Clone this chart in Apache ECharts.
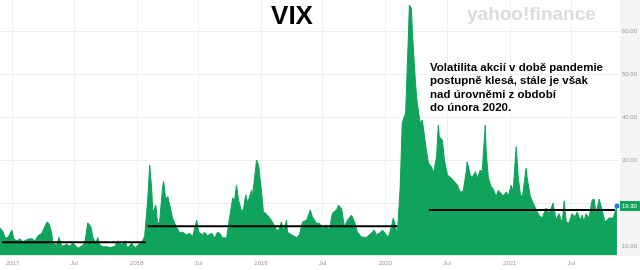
<!DOCTYPE html>
<html>
<head>
<meta charset="utf-8">
<script src="https://cdn.jsdelivr.net/npm/echarts/dist/echarts.min.js"></script>
<style>
  html, body { margin: 0; padding: 0; background: #fff; }
  #chart { width: 640px; height: 270px; }
</style>
</head>
<body>
<div id="chart"></div>
<script>
// VIX weekly closes
const vixDates = [
  "2016-11-25","2016-12-04","2016-12-10","2016-12-18","2016-12-30",
  "2017-01-05","2017-01-14","2017-01-23","2017-01-31","2017-02-15","2017-02-27","2017-03-08","2017-03-16","2017-03-28",
  "2017-04-12","2017-04-18","2017-04-26","2017-04-29","2017-05-11","2017-05-17","2017-05-26","2017-06-09","2017-06-18",
  "2017-06-27","2017-07-12","2017-07-23","2017-08-01","2017-08-10","2017-08-19","2017-08-25","2017-09-03","2017-09-08",
  "2017-09-14","2017-09-23","2017-10-08","2017-10-14","2017-10-28","2017-11-06","2017-11-18","2017-11-27","2017-12-05",
  "2017-12-17","2017-12-26",
  "2018-01-04","2018-01-16","2018-01-24","2018-02-02","2018-02-08","2018-02-14","2018-02-17","2018-02-26","2018-03-03",
  "2018-03-09","2018-03-18","2018-03-21","2018-03-27","2018-04-02","2018-04-11","2018-04-16","2018-04-25","2018-05-07",
  "2018-05-16","2018-05-28","2018-06-05","2018-06-14","2018-06-26","2018-07-02","2018-07-14","2018-07-19","2018-07-28",
  "2018-08-09","2018-08-18","2018-08-26","2018-09-01","2018-09-10","2018-09-22","2018-10-01","2018-10-10","2018-10-15",
  "2018-10-21","2018-10-27","2018-11-05","2018-11-11","2018-11-17","2018-11-23","2018-12-04","2018-12-07","2018-12-19",
  "2018-12-25",
  "2019-01-03","2019-01-08","2019-01-20","2019-02-04","2019-02-16","2019-02-22","2019-03-02","2019-03-08","2019-03-17",
  "2019-03-20","2019-04-01","2019-04-15","2019-04-24","2019-05-03","2019-05-15","2019-05-26","2019-06-01","2019-06-13",
  "2019-06-22","2019-07-01","2019-07-12","2019-07-21","2019-07-30","2019-08-11","2019-08-17","2019-08-26","2019-09-03",
  "2019-09-12","2019-09-24","2019-10-03","2019-10-11","2019-10-23","2019-11-07","2019-11-21","2019-11-30","2019-12-06",
  "2019-12-15","2019-12-24",
  "2020-01-04","2020-01-10","2020-01-19","2020-01-25","2020-02-03","2020-02-06","2020-02-14","2020-02-20","2020-03-01",
  "2020-03-09","2020-03-12","2020-03-18","2020-03-21","2020-03-30","2020-04-04","2020-04-13","2020-04-19","2020-05-01",
  "2020-05-07","2020-05-16","2020-05-22","2020-05-31","2020-06-05","2020-06-08","2020-06-17","2020-06-23","2020-07-02",
  "2020-07-13","2020-07-22","2020-07-31","2020-08-08","2020-08-17","2020-08-26","2020-08-29","2020-09-07","2020-09-13",
  "2020-09-22","2020-09-28","2020-10-06","2020-10-12","2020-10-21","2020-10-24","2020-10-30","2020-11-07","2020-11-13",
  "2020-11-22","2020-11-28","2020-12-07","2020-12-13","2020-12-22","2020-12-28",
  "2021-01-05","2021-01-11","2021-01-20","2021-01-26","2021-02-01","2021-02-07","2021-02-12","2021-02-18","2021-02-21",
  "2021-03-02","2021-03-08","2021-03-20","2021-03-28","2021-04-06","2021-04-18","2021-04-27","2021-05-08","2021-05-17",
  "2021-05-26","2021-06-04","2021-06-10","2021-06-16","2021-06-24","2021-07-03","2021-07-12","2021-07-18","2021-07-27",
  "2021-08-02","2021-08-07","2021-08-13","2021-08-22","2021-08-31","2021-09-06","2021-09-12","2021-09-21","2021-09-29",
  "2021-10-08","2021-10-20","2021-11-01","2021-11-12"
];
const vixValues = [
  14.2,13.3,11.9,11.9,13.7,
  11.6,11.2,11.7,11.0,11.6,11.7,11.2,12.3,13.0,
  15.6,15.2,13.0,10.7,10.2,12.0,9.9,10.4,10.0,
  10.7,9.5,10.0,10.7,15.4,14.5,12.0,10.7,12.0,
  10.3,9.8,9.8,9.6,9.9,11.2,10.3,11.2,9.6,
  10.7,9.6,
  10.2,11.0,12.2,20.7,28.8,23.0,17.7,19.5,15.3,
  15.6,23.8,25.0,20.7,21.5,18.4,16.5,14.9,13.0,
  13.2,12.6,13.0,12.2,16.0,13.2,12.6,13.2,12.4,
  13.0,11.9,13.2,13.0,11.9,11.9,16.8,21.2,20.4,
  24.2,20.7,18.0,18.7,21.9,20.0,23.0,21.5,30.0,
  28.8,
  22.3,18.0,17.2,15.6,13.7,13.7,15.6,13.7,16.0,
  13.2,12.6,12.0,12.6,15.6,16.0,18.4,16.8,15.3,
  15.3,14.0,14.9,13.7,17.7,18.4,19.5,18.7,14.4,
  16.0,17.2,15.6,13.3,12.1,12.0,13.0,13.7,12.6,
  13.0,13.7,
  12.6,12.0,14.4,16.5,13.7,13.0,23.7,38.6,40.9,
  58.6,66.0,65.3,59.5,47.9,43.3,38.6,39.3,32.3,
  29.3,28.4,27.0,30.7,38.1,35.4,34.7,30.0,26.5,
  25.8,25.0,24.2,22.6,22.6,27.3,29.6,26.5,26.0,
  27.3,25.8,27.6,27.3,38.1,31.6,26.0,23.8,23.4,
  21.5,22.9,22.2,21.7,22.6,21.7,
  24.1,22.9,33.1,26.0,22.2,21.2,24.4,28.1,26.0,
  21.7,20.5,18.4,17.2,16.5,18.8,17.5,20.0,16.2,
  17.5,15.3,20.5,15.6,15.3,17.5,16.8,17.9,16.0,
  17.2,15.6,17.5,16.5,20.7,20.9,17.5,20.9,18.4,
  15.6,16.5,16.5,19.3
];

// period averages drawn as black bars
const avgStarts = ["2016-12-01", "2018-02-02", "2020-05-08"];
const avgEnds   = ["2018-01-27", "2020-02-06", "2021-11-06"];
const avgValues = [10.85, 14.6, 18.35];

const xTickDates = ["2017-01-01","2017-07-01","2018-01-01","2018-07-01","2019-01-01",
                    "2019-07-01","2020-01-01","2020-07-01","2021-01-01","2021-07-01"];
const yTickValues = [10, 20, 30, 40, 50, 60];

const noteLines = [
  "Volatilita akcií v době pandemie",
  "postupně klesá, stále je však",
  "nad úrovněmi z období",
  "do února 2020."
];

const GREEN = "#0fa35c";
const FONT = "Liberation Sans, Arial, sans-serif";

function toTime(s) {
  const [y, m, d] = s.split("-").map(Number);
  return new Date(y, m - 1, d).getTime();
}

const vixData = vixDates.map((d, i) => [toTime(d), vixValues[i]]);
const lastPoint = vixData[vixData.length - 1];
const xTicks = xTickDates.map(toTime);

const avgSeries = avgValues.map((v, i) => ({
  type: "line",
  data: [[toTime(avgStarts[i]), v], [toTime(avgEnds[i]), v]],
  symbol: "none",
  silent: true,
  z: 5,
  lineStyle: { color: "#000", width: 2 },
}));

const chart = echarts.init(document.getElementById("chart"), null, { renderer: "canvas" });
chart.setOption({
  animation: false,
  grid: { left: 0, right: 20, top: 0, bottom: 14.7 },
  xAxis: {
    type: "value",
    min: toTime("2016-11-25"),
    max: toTime("2021-11-18"),
    axisLine: { show: false },
    axisTick: { show: false, customValues: xTicks },
    splitLine: { show: true, lineStyle: { color: "#f0f0f0", width: 1 } },
    axisLabel: {
      customValues: xTicks,
      formatter: v => {
        const d = new Date(v);
        return d.getMonth() === 0 ? String(d.getFullYear()) : "Jul";
      },
      fontFamily: FONT,
      fontSize: 6,
      color: "#999",
      margin: 5,
    },
  },
  yAxis: {
    type: "value",
    position: "right",
    min: 7.84,
    max: 67.2,
    axisLine: { show: false },
    axisTick: { show: false, customValues: yTickValues },
    splitLine: { show: true, lineStyle: { color: "#ededed", width: 1 } },
    axisLabel: {
      customValues: yTickValues,
      formatter: v => v.toFixed(2),
      fontFamily: FONT,
      fontSize: 6,
      color: "#999",
      margin: 3,
    },
  },
  graphic: [
    {
      type: "rect",
      z: -10,
      shape: { x: 620, y: 0, width: 20, height: 256 },
      style: { fill: "#f4f4f4" },
    },
    {
      type: "text",
      z: 100,
      style: {
        text: "VIX",
        x: 292, y: 17,
        align: "center", verticalAlign: "middle",
        font: "bold 26px " + FONT,
        fill: "#000",
      },
    },
    {
      type: "text",
      z: 1,
      style: {
        text: "yahoo!finance",
        x: 467, y: 15,
        align: "left", verticalAlign: "middle",
        font: "bold 19px " + FONT,
        fill: "#dcdcdc",
      },
    },
    {
      type: "text",
      z: 100,
      style: {
        text: noteLines.join("\n"),
        x: 430, y: 61,
        align: "left", verticalAlign: "top",
        font: "bold 11.5px " + FONT,
        lineHeight: 13.4,
        fill: "#000",
      },
    },
  ],
  series: [
    {
      type: "line",
      data: vixData,
      symbol: "none",
      lineStyle: { color: GREEN, width: 1 },
      areaStyle: { color: GREEN, opacity: 1 },
      endLabel: {
        show: true,
        formatter: p => p.value[1].toFixed(2),
        backgroundColor: GREEN,
        color: "#fff",
        fontFamily: FONT,
        fontSize: 6,
        padding: [2, 3, 2, 2],
        distance: 3,
      },
      markPoint: {
        silent: true,
        data: [{ coord: lastPoint, symbol: "circle", symbolSize: 5 }],
        itemStyle: { color: "#2b7bd6" },
        label: { show: false },
      },
      z: 2,
    },
    ...avgSeries,
  ],
});
</script>
</body>
</html>
